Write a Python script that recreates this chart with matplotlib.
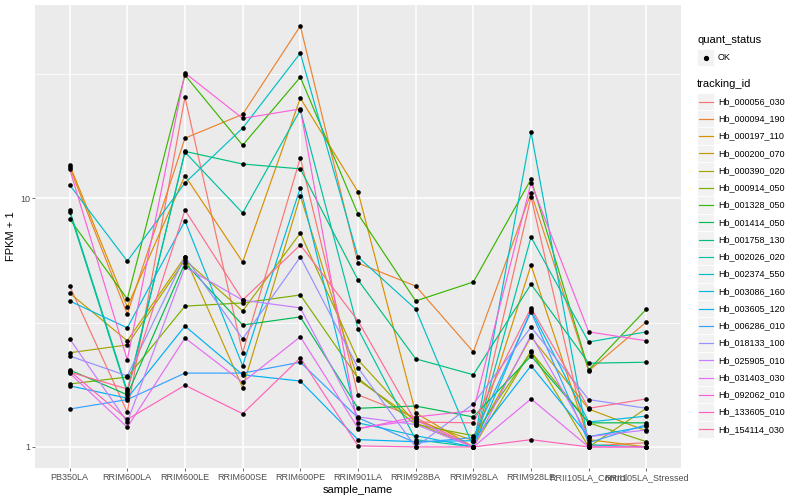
import matplotlib
matplotlib.use("Agg")
import matplotlib.pyplot as plt
from matplotlib.patches import Rectangle
from matplotlib.lines import Line2D
from matplotlib.ticker import FixedLocator, NullFormatter
import numpy as np

plt.rcParams['font.family'] = ['Liberation Sans', 'DejaVu Sans']

samples = ["PB350LA", "RRIM600LA", "RRIM600LE", "RRIM600SE", "RRIM600PE",
           "RRIM901LA", "RRIM928BA", "RRIM928LA", "RRIM928LE",
           "RRII105LA_Control", "RRII105LA_Stressed"]

tracking_ids = ["Hb_000056_030", "Hb_000094_190", "Hb_000197_110", "Hb_000200_070",
                "Hb_000390_020", "Hb_000914_050", "Hb_001328_050", "Hb_001414_050",
                "Hb_001758_130", "Hb_002026_020", "Hb_002374_550", "Hb_003086_160",
                "Hb_003605_120", "Hb_006286_010", "Hb_018133_100", "Hb_025905_010",
                "Hb_031403_030", "Hb_092062_010", "Hb_133605_010", "Hb_154114_030"]

# FPKM + 1, one list per tracking_id, in sample order
fpkm = [
    [4.43, 1.38, 25.4, 2.39, 14.5, 1.62, 1.31, 1.00, 10.1, 1.01, 1.04],
    [13.3, 3.42, 17.4, 21.7, 49.1, 5.48, 4.43, 2.41, 10.5, 2.02, 3.18],
    [13.6, 3.65, 12.3, 5.53, 25.2, 10.6, 1.37, 1.00, 5.38, 1.07, 1.00],
    [4.15, 2.67, 5.80, 1.73, 10.2, 1.86, 1.28, 1.06, 2.77, 1.42, 1.16],
    [2.39, 2.57, 5.64, 3.52, 7.23, 2.24, 1.25, 1.00, 2.43, 1.00, 1.43],
    [1.79, 1.91, 3.68, 3.79, 4.08, 1.89, 1.23, 1.11, 2.41, 1.25, 1.05],
    [8.24, 3.93, 31.2, 16.3, 30.6, 8.63, 3.86, 4.60, 11.9, 2.04, 3.58],
    [2.04, 1.62, 5.48, 3.09, 3.33, 1.43, 1.46, 1.32, 2.32, 1.25, 1.25],
    [8.79, 1.65, 15.4, 13.7, 13.1, 4.69, 2.26, 1.95, 4.51, 2.17, 2.19],
    [8.95, 1.68, 15.3, 8.71, 22.6, 2.98, 1.07, 1.00, 6.97, 2.64, 2.90],
    [11.3, 5.58, 11.5, 19.1, 38.2, 5.80, 3.58, 1.00, 18.4, 1.02, 1.00],
    [3.86, 3.01, 8.09, 2.12, 11.0, 1.25, 1.11, 1.00, 3.55, 1.26, 1.33],
    [1.76, 1.57, 3.06, 1.95, 1.84, 1.07, 1.05, 1.06, 2.12, 1.10, 1.21],
    [1.42, 1.55, 1.98, 1.98, 2.19, 1.31, 1.04, 1.09, 3.49, 1.04, 1.23],
    [2.32, 1.93, 5.80, 2.72, 5.80, 2.08, 1.00, 1.49, 3.03, 1.55, 1.43],
    [2.72, 1.26, 5.28, 3.89, 3.62, 1.32, 1.23, 1.00, 2.82, 1.10, 1.17],
    [1.98, 1.20, 2.74, 1.82, 2.77, 1.19, 1.28, 1.00, 1.56, 1.00, 1.00],
    [13.1, 2.24, 31.8, 20.9, 22.8, 1.18, 1.32, 1.40, 11.5, 2.90, 2.67],
    [2.02, 1.29, 1.77, 1.36, 2.28, 1.01, 1.00, 1.00, 1.07, 1.00, 1.00],
    [2.00, 1.71, 8.95, 3.89, 6.48, 3.21, 1.26, 1.25, 3.62, 1.43, 1.56],
]

# ggplot default hue palette for 20 levels
colours = ["#F8766D", "#EA8331", "#D89000", "#C09B00", "#A3A500", "#7CAE00",
           "#39B600", "#00BB4E", "#00BF7D", "#00C1A3", "#00BFC4", "#00BAE0",
           "#00B0F6", "#35A2FF", "#9590FF", "#C77CFF", "#E76BF3", "#FA62DB",
           "#FF62BC", "#FF6C91"]

W, H = 800, 500
fig = plt.figure(figsize=(8, 5), dpi=100)
ax = fig.add_axes([35/W, 32/H, 646/W, 463/H])
ax.set_facecolor("#EBEBEB")
for s in ax.spines.values():
    s.set_visible(False)

x = np.arange(len(samples))
for vals, col in zip(fpkm, colours):
    ax.plot(x, vals, color=col, lw=0.85, zorder=2)
for vals in fpkm:
    ax.scatter(x, vals, s=11, color="black", zorder=3, linewidths=0)

# log axis with ggplot-like 5% expansion
ax.set_yscale("log")
lo = np.log10(np.min(fpkm))
hi = np.log10(np.max(fpkm))
pad = 0.05 * (hi - lo)
ax.set_ylim(10**(lo - pad), 10**(hi + pad))
ax.set_xlim(-0.6, len(samples) - 0.4)

ax.set_yticks([1, 10])
ax.set_yticklabels(["1", "10"])
ax.yaxis.set_minor_locator(FixedLocator([10**0.5, 10**1.5]))
ax.yaxis.set_minor_formatter(NullFormatter())
ax.set_xticks(x)
ax.set_xticklabels(samples)

ax.grid(which="major", color="white", lw=1.1)
ax.grid(which="minor", axis="y", color="white", lw=0.55)
ax.set_axisbelow(True)
ax.tick_params(which="major", length=2.0, width=0.5, color="#333333",
               labelcolor="#4D4D4D", labelsize=6.5, pad=1.6)
ax.tick_params(which="minor", length=0)

ax.set_xlabel("sample_name", fontsize=8, labelpad=2)
ax.set_ylabel("FPKM + 1", fontsize=8, labelpad=3)

# legend drawn in the ggplot style
def fx(px):
    return px / W

def fy(py):
    return 1 - py / H

fig.text(fx(697), fy(40), "quant_status", fontsize=8, va="center", ha="left")
fig.add_artist(Rectangle((fx(697), fy(66)), 17/W, 17/H, transform=fig.transFigure,
                         facecolor="#F2F2F2", edgecolor="white", lw=0.6))
fig.add_artist(Line2D([fx(705.5)], [fy(57.5)], marker="o", markersize=2.8,
                      color="black", transform=fig.transFigure))
fig.text(fx(718), fy(57.5), "OK", fontsize=6.5, va="center", ha="left")

fig.text(fx(697), fy(84), "tracking_id", fontsize=8, va="center", ha="left")
for i, (name, col) in enumerate(zip(tracking_ids, colours)):
    yc = 101.5 + i * 17.25
    fig.add_artist(Rectangle((fx(697), fy(yc + 8.6)), 17/W, 17.25/H,
                             transform=fig.transFigure, facecolor="#F2F2F2",
                             edgecolor="white", lw=0.6))
    fig.add_artist(Line2D([fx(699), fx(712.5)], [fy(yc), fy(yc)], color=col,
                          lw=0.85, transform=fig.transFigure))
    fig.text(fx(718), fy(yc), name, fontsize=6.5, va="center", ha="left")

fig.savefig("out.png", dpi=100, facecolor="white")
